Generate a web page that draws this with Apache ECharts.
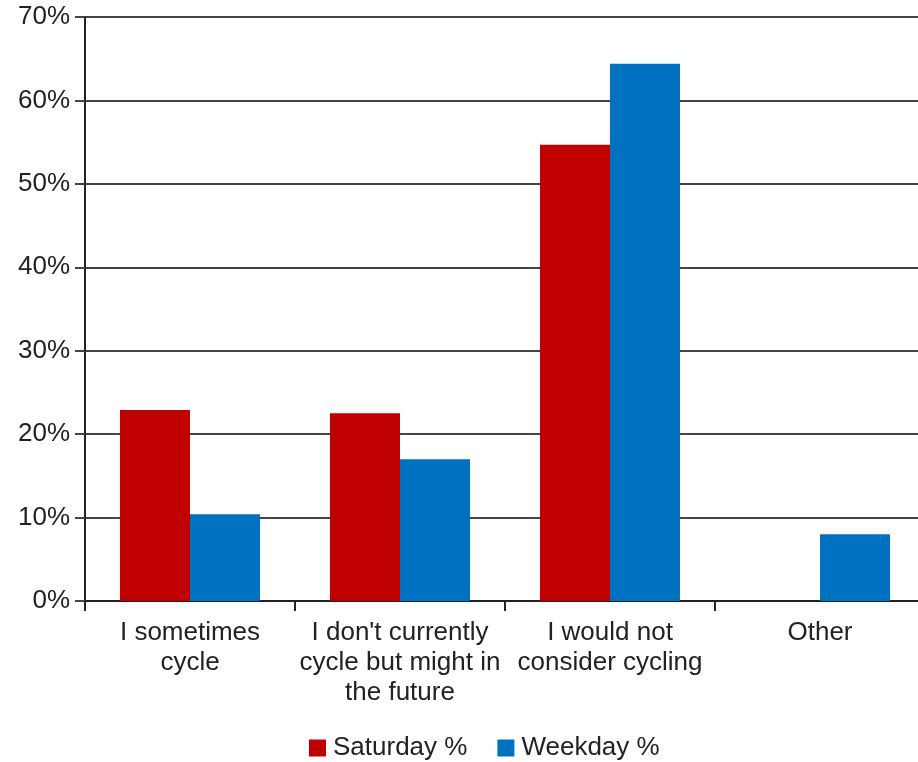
<!DOCTYPE html>
<html>
<head>
<meta charset="utf-8">
<script src="https://cdn.jsdelivr.net/npm/echarts@6/dist/echarts.min.js"></script>
<style>
  html, body { margin: 0; padding: 0; background: #fff; }
  #chart { width: 918px; height: 762px; }
</style>
</head>
<body>
<div id="chart"></div>
<script>
const categories = ['I sometimes\ncycle', "I don't currently\ncycle but might in\nthe future", 'I would not\nconsider cycling', 'Other']
const saturday = [22.9, 22.5, 54.7, 0]
const weekday = [10.4, 17.0, 64.4, 8.0]
const yTicks = [0, 10, 20, 30, 40, 50, 60, 70]

const chart = echarts.init(document.getElementById('chart'))
const font = 'Liberation Sans, Arial, sans-serif'

chart.setOption({
  animation: false,
  grid: {
    left: 85,
    width: 840,
    top: 17,
    height: 584,
    containLabel: false,
    outerBoundsMode: 'none'
  },
  legend: {
    left: 309,
    top: 735,
    padding: 0,
    itemWidth: 17,
    itemHeight: 17,
    itemGap: 30,
    icon: 'rect',
    textStyle: { fontFamily: font, fontSize: 26, color: '#222', padding: [0, 0, 0, 2] },
    data: ['Saturday %', 'Weekday %']
  },
  xAxis: {
    type: 'category',
    data: categories,
    axisLine: { lineStyle: { color: '#222', width: 2 } },
    axisTick: { show: true, length: 10, lineStyle: { color: '#222', width: 2 } },
    axisLabel: {
      interval: 0,
      margin: 17,
      fontFamily: font,
      fontSize: 26,
      lineHeight: 30,
      color: '#222'
    }
  },
  yAxis: {
    type: 'value',
    min: 0,
    max: 70,
    interval: 10,
    axisLine: { show: true, lineStyle: { color: '#222', width: 2 } },
    axisTick: { show: true, length: 10, lineStyle: { color: '#444', width: 2 } },
    splitLine: { show: true, lineStyle: { color: '#444', width: 2 } },
    axisLabel: {
      margin: 15,
      fontFamily: font,
      fontSize: 26,
      color: '#222',
      formatter: v => (yTicks.includes(v) ? v + '%' : '')
    }
  },
  series: [
    {
      name: 'Saturday %',
      type: 'bar',
      data: saturday,
      barGap: '0%',
      barCategoryGap: '33.3%',
      itemStyle: { color: '#c00000' }
    },
    {
      name: 'Weekday %',
      type: 'bar',
      data: weekday,
      itemStyle: { color: '#0070c0' }
    }
  ]
})

window.addEventListener('resize', function () {
  chart.resize()
})
</script>
</body>
</html>
